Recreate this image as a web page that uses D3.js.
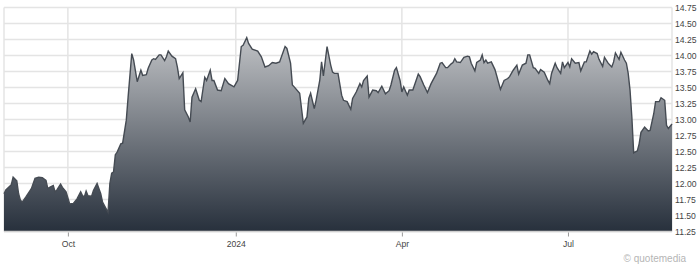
<!DOCTYPE html>
<meta charset="utf-8">
<style>
body { margin: 0; background: #fff; }
.grid line { stroke: #e4e4e4; stroke-width: 1.5px; }
.axis text { font-family: "Liberation Sans", Arial, sans-serif; font-size: 8.6px; fill: #444; }
.line { fill: none; stroke: #454b53; stroke-width: 1.4px; }
</style>
<body>
<script src="https://d3js.org/d3.v7.min.js"></script>
<script>

// daily closes
var dates = [
  "2023-08-27","2023-08-28","2023-08-31","2023-09-01","2023-09-03","2023-09-04","2023-09-05","2023-09-06","2023-09-08","2023-09-11",
  "2023-09-13","2023-09-15","2023-09-17","2023-09-19","2023-09-20","2023-09-21","2023-09-23","2023-09-24","2023-09-25","2023-09-27",
  "2023-09-28","2023-09-30","2023-10-02","2023-10-04","2023-10-06","2023-10-08","2023-10-09","2023-10-10","2023-10-11","2023-10-12",
  "2023-10-14","2023-10-15","2023-10-17","2023-10-19","2023-10-20","2023-10-23","2023-10-24","2023-10-25","2023-10-26","2023-10-27",
  "2023-10-28","2023-10-30","2023-10-31","2023-11-02","2023-11-03","2023-11-05","2023-11-06","2023-11-08","2023-11-10","2023-11-11",
  "2023-11-13","2023-11-14","2023-11-16","2023-11-17","2023-11-18","2023-11-20","2023-11-21","2023-11-23","2023-11-24","2023-11-25",
  "2023-11-27","2023-11-29","2023-11-30","2023-12-01","2023-12-03","2023-12-04","2023-12-06","2023-12-07","2023-12-08","2023-12-10",
  "2023-12-12","2023-12-13","2023-12-15","2023-12-16","2023-12-18","2023-12-19","2023-12-20","2023-12-22","2023-12-24","2023-12-26",
  "2023-12-28","2023-12-31","2024-01-02","2024-01-04","2024-01-05","2024-01-07","2024-01-08","2024-01-10","2024-01-13","2024-01-15",
  "2024-01-17","2024-01-19","2024-01-21","2024-01-23","2024-01-25","2024-01-28","2024-01-29","2024-01-31","2024-02-01","2024-02-02",
  "2024-02-05","2024-02-07","2024-02-09","2024-02-10","2024-02-11","2024-02-13","2024-02-14","2024-02-16","2024-02-17","2024-02-18",
  "2024-02-20","2024-02-22","2024-02-23","2024-02-24","2024-02-26","2024-02-28","2024-02-29","2024-03-02","2024-03-04","2024-03-05",
  "2024-03-07","2024-03-09","2024-03-10","2024-03-11","2024-03-13","2024-03-14","2024-03-16","2024-03-18","2024-03-19","2024-03-21",
  "2024-03-23","2024-03-25","2024-03-26","2024-03-28","2024-03-29","2024-03-31","2024-04-01","2024-04-02","2024-04-04","2024-04-05",
  "2024-04-07","2024-04-10","2024-04-11","2024-04-13","2024-04-14","2024-04-15","2024-04-17","2024-04-20","2024-04-22","2024-04-23",
  "2024-04-25","2024-04-26","2024-04-28","2024-04-29","2024-04-30","2024-05-01","2024-05-03","2024-05-05","2024-05-07","2024-05-08",
  "2024-05-09","2024-05-11","2024-05-12","2024-05-14","2024-05-15","2024-05-16","2024-05-17","2024-05-18","2024-05-20","2024-05-22",
  "2024-05-23","2024-05-25","2024-05-27","2024-05-29","2024-05-30","2024-06-01","2024-06-03","2024-06-04","2024-06-06","2024-06-08",
  "2024-06-09","2024-06-10","2024-06-12","2024-06-13","2024-06-15","2024-06-16","2024-06-18","2024-06-20","2024-06-21","2024-06-22",
  "2024-06-24","2024-06-25","2024-06-27","2024-06-28","2024-06-29","2024-07-01","2024-07-02","2024-07-03","2024-07-05","2024-07-07",
  "2024-07-08","2024-07-10","2024-07-11","2024-07-13","2024-07-14","2024-07-15","2024-07-17","2024-07-18","2024-07-20","2024-07-21",
  "2024-07-23","2024-07-25","2024-07-26","2024-07-27","2024-07-29","2024-07-30","2024-08-01","2024-08-02","2024-08-03","2024-08-04",
  "2024-08-05","2024-08-06","2024-08-08","2024-08-09","2024-08-10","2024-08-12","2024-08-14","2024-08-15","2024-08-17","2024-08-18",
  "2024-08-20","2024-08-21","2024-08-23","2024-08-24","2024-08-25","2024-08-27"
];

var prices = [
  11.84,11.90,11.98,12.10,12.04,11.84,11.74,11.71,11.79,11.92,
  12.08,12.10,12.09,12.05,11.92,11.94,11.97,11.87,11.90,11.99,
  11.94,11.87,11.68,11.69,11.76,11.87,11.81,11.79,11.88,11.81,
  11.80,11.89,12.00,11.84,11.71,11.55,12.00,12.16,12.18,12.45,
  12.49,12.62,12.63,12.99,13.35,14.03,13.93,13.59,13.77,13.69,
  13.70,13.80,13.93,13.95,13.94,14.01,14.01,13.92,13.98,14.07,
  13.99,13.95,13.82,13.64,13.73,13.15,13.04,12.96,13.35,13.48,
  13.30,13.28,13.66,13.61,13.77,13.61,13.61,13.46,13.45,13.64,
  13.56,13.51,13.61,14.14,14.16,14.28,14.19,14.10,14.07,13.98,
  13.82,13.84,13.89,13.88,13.90,14.14,14.11,13.88,13.54,13.51,
  13.41,12.94,13.04,13.33,13.41,13.17,13.30,13.61,13.90,13.68,
  14.14,13.85,13.74,13.72,13.72,13.38,13.30,13.28,13.16,13.33,
  13.43,13.56,13.51,13.61,13.68,13.35,13.46,13.45,13.42,13.52,
  13.40,13.45,13.54,13.77,13.81,13.61,13.43,13.51,13.38,13.46,
  13.46,13.71,13.67,13.54,13.48,13.42,13.56,13.72,13.88,13.89,
  13.81,13.81,13.87,13.89,13.95,13.90,13.89,13.97,13.99,13.98,
  13.88,13.76,13.89,13.93,14.01,13.89,13.93,13.88,13.90,13.78,
  13.68,13.47,13.61,13.64,13.67,13.77,13.85,13.71,13.85,13.88,
  14.01,14.01,13.81,13.80,13.72,13.78,13.74,13.61,13.56,13.72,
  13.88,13.81,13.72,13.90,13.81,13.89,13.82,13.95,13.88,13.89,
  13.76,13.90,13.90,14.07,14.02,14.06,14.03,13.94,13.83,13.97,
  13.88,13.82,13.90,14.04,13.94,14.05,13.93,13.88,13.72,13.46,
  13.04,12.48,12.51,12.62,12.80,12.88,12.82,12.83,13.09,13.28,
  13.28,13.34,13.30,12.91,12.86,12.93
];

var yTicks = [11.25,11.50,11.75,12.00,12.25,12.50,12.75,13.00,13.25,13.50,13.75,14.00,14.25,14.50,14.75];
var xTicks = ["2023-10-01","2024-01-01","2024-04-01","2024-07-01"];
var xTickLabels = ["Oct","2024","Apr","Jul"];

var parseDate = d3.timeParse("%Y-%m-%d");

var data = dates.map(function(d, i) { return {date: parseDate(d), value: prices[i]}; });

var margin = {top: 7.5, right: 25, bottom: 37.5, left: 4},
    width = 697 - margin.left - margin.right,
    height = 269 - margin.top - margin.bottom;

var x = d3.scaleTime()
  .domain([parseDate("2023-08-27"), parseDate("2024-08-27")])
  .range([0, width]);
var y = d3.scaleLinear().domain([11.25, 14.75]).range([height, 0]);

var svg = d3.select("body").append("svg")
  .attr("width", 697)
  .attr("height", 269);

var defs = svg.append("defs");
var grad = defs.append("linearGradient")
  .attr("id", "fill")
  .attr("gradientUnits", "userSpaceOnUse")
  .attr("x1", 0).attr("x2", 0)
  .attr("y1", y(14.75)).attr("y2", y(11.25));
grad.append("stop").attr("offset", "0%").attr("stop-color", "#d7d8da");
grad.append("stop").attr("offset", "100%").attr("stop-color", "#27303c");

var g = svg.append("g")
  .attr("transform", "translate(" + margin.left + "," + margin.top + ")");

// grid
var grid = g.append("g").attr("class", "grid");
grid.selectAll(".h").data(yTicks).enter().append("line")
  .attr("x1", 0).attr("x2", width)
  .attr("y1", function(d) { return y(d); })
  .attr("y2", function(d) { return y(d); });
grid.selectAll(".v").data(xTicks).enter().append("line")
  .attr("x1", function(d) { return x(parseDate(d)); })
  .attr("x2", function(d) { return x(parseDate(d)); })
  .attr("y1", 0).attr("y2", height);
grid.append("line").attr("x1", 0).attr("x2", 0).attr("y1", 0).attr("y2", height);
grid.append("line").attr("x1", width).attr("x2", width).attr("y1", 0).attr("y2", height);

// area + line
var area = d3.area()
  .x(function(d) { return x(d.date); })
  .y0(height)
  .y1(function(d) { return y(d.value); });

var valueline = d3.line()
  .x(function(d) { return x(d.date); })
  .y(function(d) { return y(d.value); });

g.append("path").datum(data).attr("fill", "url(#fill)").attr("d", area);
g.append("path").datum(data).attr("class", "line").attr("d", valueline);

// frame bottom
g.append("line")
  .attr("x1", 0).attr("x2", width).attr("y1", height).attr("y2", height)
  .attr("stroke", "#cfcfcf").attr("stroke-width", 1.5);

// x axis
var xAxis = d3.axisBottom(x)
  .tickValues(xTicks.map(parseDate))
  .tickSize(4)
  .tickPadding(4)
  .tickFormat(function(d, i) { return xTickLabels[i]; });

var gx = g.append("g").attr("class", "axis")
  .attr("transform", "translate(0," + (height + 1) + ")")
  .call(xAxis);
gx.select(".domain").remove();
gx.selectAll(".tick line").attr("stroke", "#999");

// y axis on the right
var yAxis = d3.axisRight(y)
  .tickValues(yTicks)
  .tickSize(0)
  .tickPadding(3)
  .tickFormat(d3.format(".2f"));

var gy = g.append("g").attr("class", "axis")
  .attr("transform", "translate(" + width + ",0)")
  .call(yAxis);
gy.select(".domain").remove();

// watermark
svg.append("text")
  .attr("x", 686).attr("y", 262)
  .attr("text-anchor", "end")
  .attr("font-family", "Liberation Sans, Arial, sans-serif")
  .attr("font-size", "10px")
  .attr("fill", "#b5b5b5")
  .text("\u00a9 quotemedia");

</script>
</body>
